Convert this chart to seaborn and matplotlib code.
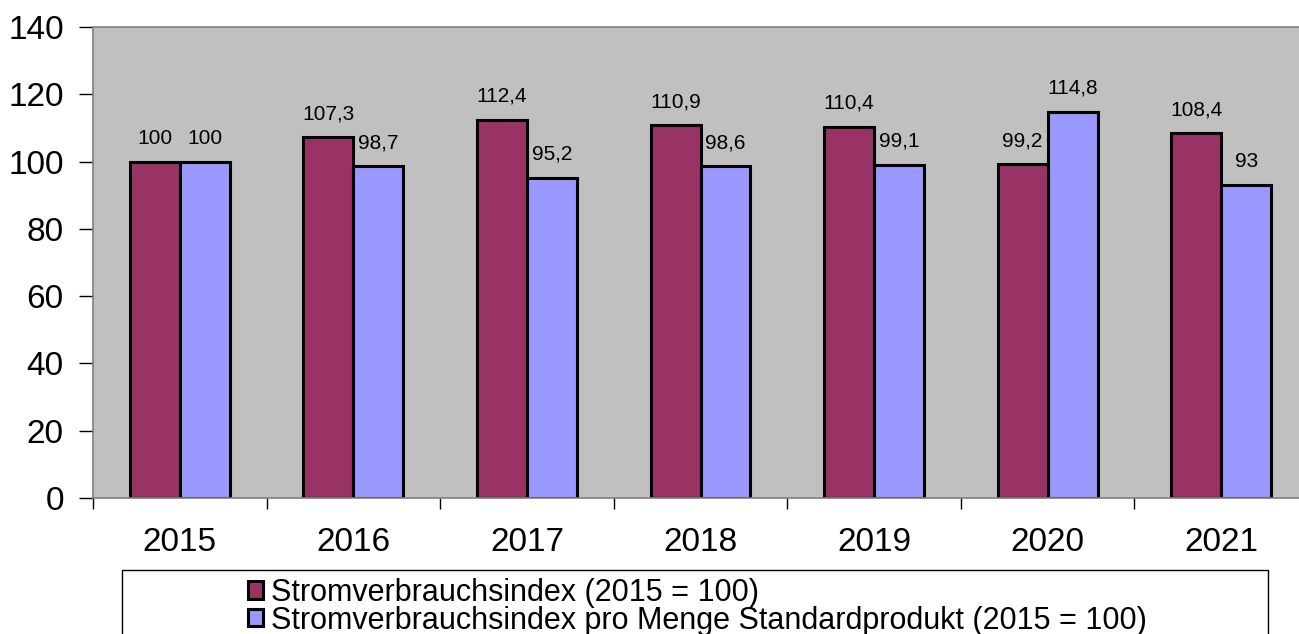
import pandas as pd
import numpy as np
import matplotlib
matplotlib.use("Agg")
import matplotlib.pyplot as plt
from matplotlib.patches import Rectangle
import seaborn as sns

jahre = ["2015", "2016", "2017", "2018", "2019", "2020", "2021"]
strom_index = [100, 107.3, 112.4, 110.9, 110.4, 99.2, 108.4]
strom_pro_menge = [100, 98.7, 95.2, 98.6, 99.1, 114.8, 93]
serien = ["Stromverbrauchsindex (2015 = 100)",
          "Stromverbrauchsindex pro Menge Standardprodukt (2015 = 100)"]
y_ticks = [0, 20, 40, 60, 80, 100, 120, 140]

df = pd.DataFrame({
    "Jahr": jahre * 2,
    "Wert": strom_index + strom_pro_menge,
    "Serie": [serien[0]] * len(jahre) + [serien[1]] * len(jahre),
})

sns.set_style("white")
plt.rcParams["font.family"] = ["Liberation Sans", "DejaVu Sans"]
plt.rcParams["text.color"] = "black"
plt.rcParams["xtick.color"] = "black"
plt.rcParams["ytick.color"] = "black"

fig = plt.figure(figsize=(12.99, 6.34), dpi=100)
ax = fig.add_axes([93 / 1299, 136 / 634, 1215 / 1299, 471 / 634])
ax.set_facecolor("#C0C0C0")

sns.barplot(data=df, x="Jahr", y="Wert", hue="Serie", order=jahre,
            hue_order=serien, palette=["#993366", "#9999FF"],
            width=0.576, gap=0, edgecolor="black", linewidth=2.2,
            saturation=1, ax=ax)

# Datenbeschriftungen mit Komma
for cont in ax.containers:
    labels = [f"{b.get_height():g}".replace(".", ",") for b in cont]
    ax.bar_label(cont, labels=labels, padding=10, fontsize=15, color="black")

ax.set_ylim(0, 140)
ax.set_xlim(-0.5, len(jahre) - 0.5)
ax.set_yticks(y_ticks)
ax.set_xlabel("")
ax.set_ylabel("")

ax.tick_params(axis="y", which="major", direction="out", length=10,
               width=1, color="black", labelcolor="black", labelsize=24,
               pad=11, left=True)
ax.tick_params(axis="x", which="major", length=0, labelsize=24,
               labelcolor="black", pad=21)
ax.set_xticks(np.arange(-0.5, len(jahre)), minor=True)
ax.tick_params(axis="x", which="minor", direction="out", length=8,
               width=1, color="black", bottom=True)

for s in ax.spines.values():
    s.set_color("#808080")
    s.set_linewidth(1.2)

handles, _ = ax.get_legend_handles_labels()
ax.get_legend().remove()
leg = fig.legend(handles, serien, loc="center", bbox_to_anchor=(0.537, 0.043),
                 frameon=False, fontsize=22, handlelength=0.5, handleheight=0.5,
                 handletextpad=0.25, labelspacing=-0.08, borderpad=0)
for t in leg.get_texts():
    t.set_color("black")

# Rahmen der Legende
fig.patches.append(Rectangle((122 / 1299, -0.05), 1146 / 1299, 0.05 + 64 / 634,
                             transform=fig.transFigure, fill=False,
                             edgecolor="black", linewidth=1))

fig.savefig("out.png", dpi=100, facecolor="white")
